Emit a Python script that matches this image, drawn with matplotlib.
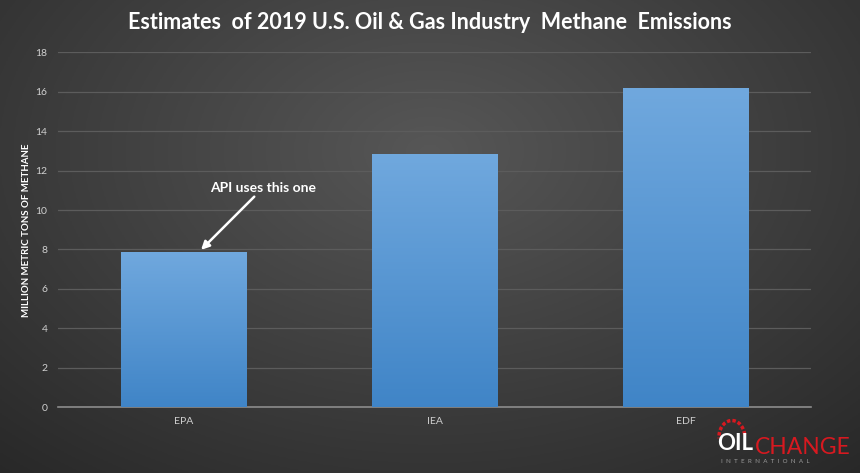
import numpy as np
import matplotlib.pyplot as plt
from matplotlib.patches import Arc

categories = ["EPA", "IEA", "EDF"]
emissions = [7.86, 12.85, 16.2]
y_ticks = [0, 2, 4, 6, 8, 10, 12, 14, 16, 18]
title = "Estimates  of 2019 U.S. Oil & Gas Industry  Methane  Emissions"
y_label = "MILLION METRIC TONS OF METHANE"
note = "API uses this one"

plt.rcParams["font.family"] = ["Lato", "DejaVu Sans"]

fig = plt.figure(figsize=(8.6, 4.73), dpi=100)

# radial background
bg = fig.add_axes([0, 0, 1, 1], zorder=-10)
gx, gy = np.meshgrid(np.linspace(0, 1, 430), np.linspace(0, 1, 237))
r = np.sqrt(((gx - 0.5) / 0.75) ** 2 + ((gy - 0.32) / 0.9) ** 2)
shade = np.clip(0.34 - 0.18 * r, 0.15, 0.34)
bg.imshow(np.dstack([shade, shade, shade]), extent=[0, 1, 0, 1], aspect="auto", origin="upper")
bg.axis("off")

ax = fig.add_axes([0.068, 0.139, 0.8756, 0.7505])
ax.patch.set_alpha(0)
x = np.arange(len(categories))
bars = ax.bar(x, emissions, width=0.5, color="#5b9bd5", zorder=3)

# vertical gradient on each bar
grad = np.linspace(0, 1, 256).reshape(-1, 1)
top_c = np.array([0.44, 0.66, 0.87])
bot_c = np.array([0.25, 0.52, 0.78])
for b in bars:
    img = top_c + (bot_c - top_c) * grad[:, :, None]
    x0, w, h = b.get_x(), b.get_width(), b.get_height()
    im = ax.imshow(img, extent=[x0, x0 + w, 0, h], aspect="auto", origin="upper", zorder=4)
    im.set_clip_path(b)

ax.set_xlim(-0.5, 2.5)
ax.set_ylim(0, 18)
ax.set_yticks(y_ticks)
ax.set_xticks(x)
ax.set_xticklabels(categories)
ax.tick_params(colors="#d0d0d0", labelsize=7.5, length=0, pad=8)
ax.tick_params(axis="x", pad=7)
ax.grid(axis="y", color="#5c5c5c", linewidth=0.9, zorder=0)
for s in ["top", "right", "left"]:
    ax.spines[s].set_visible(False)
ax.spines["bottom"].set_color("#8c8c8c")
ax.spines["bottom"].set_linewidth(1.2)
ax.set_ylabel(y_label, color="white", fontsize=7, fontweight="bold", labelpad=3)

ax.annotate(note, xy=(0.068, 7.98), xytext=(0.315, 10.82), color="white",
            fontsize=10, fontweight="bold", ha="center", va="bottom", zorder=6,
            arrowprops=dict(arrowstyle="-|>", color="white", lw=1.8, mutation_scale=12,
                            shrinkA=0, shrinkB=0))

fig.text(0.5, 0.953, title, color="white", fontsize=15.5, fontweight="bold", ha="center", va="center")

# logo
oil = fig.text(0.834, 0.048, "OIL", color="white", fontsize=16, fontweight="bold", ha="left", va="baseline")
ax.annotate("CHANGE", xy=(1.0, 0.0), xycoords=oil, xytext=(1, 0), textcoords="offset points",
            color="#d71920", fontsize=16.5, ha="left", va="baseline", annotation_clip=False)
fig.text(0.838, 0.022, "I  N  T  E  R  N  A  T  I  O  N  A  L", color="#9a9a9a", fontsize=4.5, ha="left", va="baseline")
fig.add_artist(Arc((0.851, 0.076), 0.03, 0.07, theta1=20, theta2=190, color="#d71920", lw=2.5,
                   linestyle=(0, (1, 0.6)), transform=fig.transFigure))

fig.savefig("out.png", dpi=100)
